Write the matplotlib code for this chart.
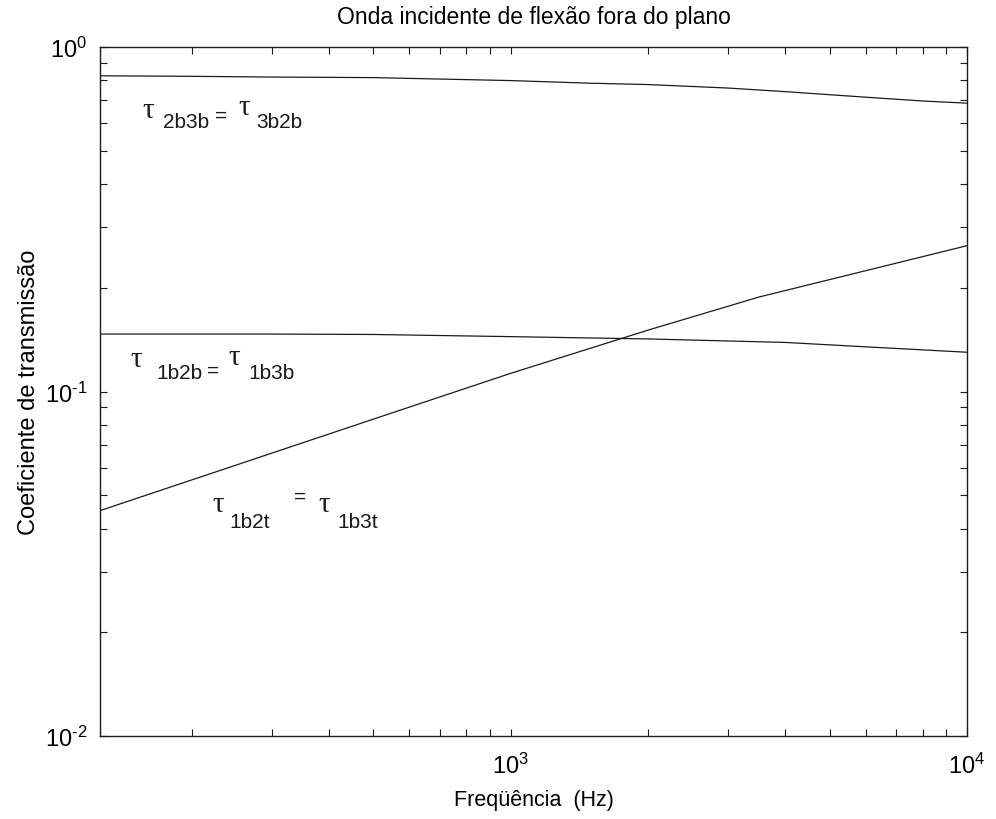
import matplotlib.pyplot as plt
import numpy as np
from matplotlib.ticker import LogLocator, FuncFormatter, NullFormatter

plt.rcParams['font.family'] = ['Liberation Sans', 'DejaVu Sans']
plt.rcParams['mathtext.fontset'] = 'custom'
plt.rcParams['mathtext.rm'] = 'Liberation Sans'
plt.rcParams['mathtext.it'] = 'Liberation Sans:italic'

# transmission coefficients vs frequency (Hz)
freq_2b3b = [126, 200, 300, 500, 1000, 1500, 2000, 3000, 4000, 6000, 8000, 10000]
tau_2b3b = [0.825, 0.822, 0.818, 0.815, 0.799, 0.785, 0.778, 0.760, 0.742, 0.715, 0.697, 0.687]

freq_1b2b = [126, 300, 500, 1000, 2000, 4000, 6000, 10000]
tau_1b2b = [0.1468, 0.1468, 0.1464, 0.1443, 0.1421, 0.1388, 0.1348, 0.130]

freq_1b2t = [126, 500, 1000, 2000, 3500, 10000]
tau_1b2t = [0.0451, 0.0831, 0.1129, 0.1507, 0.1880, 0.265]

W, H = 996, 820
line_color = '#1a1a1a'

fig = plt.figure(figsize=(W / 100, H / 100), dpi=100)
ax = fig.add_axes([100 / W, 1 - 737 / H, 867 / W, 689 / H])

ax.plot(freq_2b3b, tau_2b3b, color=line_color, lw=0.9)
ax.plot(freq_1b2b, tau_1b2b, color=line_color, lw=0.9)
ax.plot(freq_1b2t, tau_1b2t, color=line_color, lw=0.9)

ax.set_xscale('log')
ax.set_yscale('log')
ax.set_xlim(126, 1e4)
ax.set_ylim(1e-2, 1)


def pow10(v, pos):
    # 10^n labels with a plain hyphen for negative exponents
    e = int(round(np.log10(v)))
    exp = str(e).replace('-', r'\text{-}')
    return r'$\mathdefault{10^{%s}}$' % exp


for axis in (ax.xaxis, ax.yaxis):
    axis.set_major_locator(LogLocator(base=10))
    axis.set_major_formatter(FuncFormatter(pow10))
    axis.set_minor_locator(LogLocator(base=10, subs=range(2, 10)))
    axis.set_minor_formatter(NullFormatter())

ax.tick_params(which='both', direction='in', top=True, right=True,
               length=5, width=0.8, color=line_color)
ax.tick_params(axis='both', which='major', labelsize=17)
ax.tick_params(axis='x', which='major', pad=12)
ax.tick_params(axis='y', which='major', pad=9)
for sp in ax.spines.values():
    sp.set_linewidth(1.0)
    sp.set_color(line_color)

ax.set_title('Onda incidente de flexão fora do plano', fontsize=16.5, pad=17)
ax.set_xlabel('Freqüência  (Hz)', fontsize=15.5, labelpad=8)
ax.set_ylabel('Coeficiente de transmissão', fontsize=17, labelpad=4)


def put(x, y, s, size, family='Liberation Sans'):
    # x, y in figure pixels measured from the top-left corner (baseline)
    fig.text(x / W, 1 - y / H, s, fontsize=size, family=family,
             va='baseline', ha='left', color=line_color)


def tau_pair(parts):
    for x, y, s, kind in parts:
        if kind == 'tau':
            put(x, y, 'τ', 21, family=['Liberation Serif', 'DejaVu Serif'])
        else:
            put(x, y, s, 15)


tau_pair([(142, 118, '', 'tau'), (163, 128, '2b3b', 'sub'), (215, 122, '=', 'sub'),
          (238, 115, '', 'tau'), (256, 128, '3b2b', 'sub')])
tau_pair([(130, 367, '', 'tau'), (156, 379, '1b2b', 'sub'), (207, 377, '=', 'sub'),
          (228, 365, '', 'tau'), (248, 379, '1b3b', 'sub')])
tau_pair([(212, 512, '', 'tau'), (229, 528, '1b2t', 'sub'), (294, 503, '=', 'sub'),
          (318, 512, '', 'tau'), (337, 528, '1b3t', 'sub')])

fig.savefig('out.png', dpi=100)
